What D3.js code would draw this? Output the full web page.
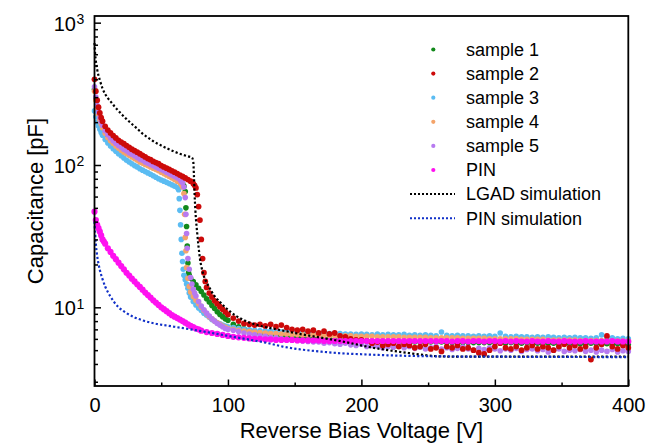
<!DOCTYPE html>
<html><head><meta charset="utf-8">
<script src="https://cdn.jsdelivr.net/npm/d3@7"></script>
<style>body{margin:0;background:#fff}svg{display:block}</style>
</head><body>
<svg id="c" width="647" height="443"></svg>
<script>
// ---------------- DATA ----------------
const xTicks = [0, 100, 200, 300, 400];
const xMinorTicks = [50, 150, 250, 350];
const yTicks = [10, 100, 1000];
const yTickExp = ["1", "2", "3"];
const yMinorTicks = [3,4,5,6,7,8,9,20,30,40,50,60,70,80,90,200,300,400,500,600,700,800,900];

const seriesNames = ["sample 1","sample 2","sample 3","sample 4","sample 5","PIN"];
const seriesColors = ["#12891b","#cc0a0a","#5bbcf2","#f4a46a","#b77af0","#ff10f0"];
const simNames = ["LGAD simulation","PIN simulation"];
const simColors = ["#000000","#1030c8"];

// shared voltage grid of the high-voltage measurements
const highV = [104,108,112,116,120,124,128,132,136,140,144,148,152,156,160,164,168,172,176,180,184,188,192,196,200,204,208,212,216,220,224,228,232,236,240,244,248,252,256,260,264,268,272,276,280,284,288,292,296,300,304,308,312,316,320,324,328,332,336,340,344,348,352,356,360,364,368,372,376,380,384,388,392,396,400];

// sample 1 (green)
const s1Low = [[0,340],[1,292],[2,256],[3,231],[4,212],[5,197],[6,186],[8,170],[10,159],[12,151],[14,145],[16,139],[18,134],[20,130],[22,126],[24,122],[26,119],[28,116],[30,113],[32,110],[34,107],[36,105],[38,103],[40,101],[42,99],[44,97],[46,95],[48,93],[50,91],[52,89],[54,87],[56,85],[58,83],[60,81],[62,79],[64,77],[66,74],[67,71],[68,65],[68.5,50],[69,37],[69.5,27],[70,20.5],[70.5,17.5],[71,16.8],[72,16],[74,15.2],[76,14.4],[78,13.6],[80,12.9],[82,12.2],[84,11.5],[86,10.9],[88,10.3],[90,9.8],[92,9.3],[94,8.9],[96,8.6],[98,8.3],[100,8.1]];
const s1High = [7.6,7.3,7.05,6.85,6.7,6.55,6.45,6.35,6.3,6.25,
 6.2,6.15,6.1,6.1,6.05,6.0,6.0,5.95,5.95,5.9,
 5.9,5.9,5.85,5.85,5.85,5.8,5.8,5.8,5.8,5.75,
 5.75,5.75,5.75,5.7,5.7,5.7,5.7,5.7,5.7,5.7,
 5.65,5.65,5.65,5.65,5.65,5.65,5.65,5.65,5.65,5.65,
 5.65,5.6,5.65,5.6,5.6,5.65,5.6,5.6,5.55,5.6,
 5.6,5.55,5.6,5.55,5.6,5.55,5.55,5.6,5.55,5.5,
 5.55,5.5,5.55,5.5,5.5];

// sample 2 (red)
const s2Low = [[0,400],[1,330],[2,285],[3,255],[4,232],[5,215],[6,203],[8,187],[10,176],[12,168],[14,161],[16,155],[18,149],[20,145],[22,141],[24,137],[26,133],[28,129],[30,126],[32,123],[34,120],[36,117],[38,114],[40,111],[42,109],[44,106],[46,104],[48,102],[50,99],[52,97],[54,95],[56,93],[58,91],[60,89],[62,87],[64,85],[66,83],[68,81],[70,79],[72,77],[74,74],[75,72],[76,69],[77,62],[78,51],[79,41],[80,30],[81,22],[82,17.5],[83,15.2],[84,13.8],[86,12.6],[88,11.8],[90,11.1],[92,10.6],[94,10.1],[96,9.7],[98,9.3],[100,8.9]];
const s2High = [8.4,8.0,7.7,7.6,7.5,7.6,7.4,7.6,7.3,7.5,
 7.2,7.0,6.9,7.0,6.8,6.9,6.6,6.8,6.5,6.6,
 6.3,6.2,6.0,5.9,5.9,5.8,5.6,5.7,5.4,5.5,
 5.6,5.3,5.5,5.4,5.2,5.3,5.5,5.1,5.2,4.9,
 5.3,5.2,5.4,5.1,5.2,5.0,4.8,4.7,5.0,5.3,
 5.6,5.2,5.1,5.3,5.0,5.2,5.4,5.1,5.3,5.2,
 5.0,5.3,5.5,5.2,5.4,5.1,5.3,4.3,5.2,5.5,
 6.3,5.3,5.1,5.4,5.2];

// sample 3 (light blue)
const s3Low = [[0,240],[1,218],[2,200],[3,188],[4,178],[5,169],[6,162],[8,151],[10,143],[12,136],[14,130],[16,125],[18,120],[20,116],[22,112],[24,108],[26,105],[28,102],[30,99],[32,97],[34,94],[36,92],[38,90],[40,88],[42,86],[44,84],[46,82],[48,80],[50,78.5],[52,77],[54,75.5],[56,74],[58,72.5],[60,71],[62,69.5],[63,67],[63.5,58],[64,48],[64.5,38],[65,30],[65.5,24],[66,21],[66.5,18.5],[67,16.8],[68,15.6],[69,14.6],[70,13.6],[71,12.6],[72,11.8],[74,11.0],[76,10.4],[78,9.9],[80,9.5],[82,9.1],[84,8.8],[86,8.5],[88,8.2],[90,8.0],[92,7.8],[94,7.65],[96,7.5],[98,7.4],[100,7.3]];
const s3High = [7.2,7.1,7.0,6.95,6.9,6.85,6.8,6.8,6.75,6.7,
 6.7,6.65,6.7,6.6,6.65,6.6,6.55,6.6,6.55,6.5,
 6.55,6.5,6.5,6.45,6.5,6.45,6.4,6.5,6.4,6.45,
 6.4,6.4,6.45,6.35,6.4,6.35,6.4,6.35,6.3,6.7,
 6.35,6.3,6.35,6.3,6.3,6.25,6.3,6.25,6.3,6.25,
 6.6,6.25,6.2,6.25,6.2,6.2,6.15,6.2,6.15,6.2,
 6.15,6.1,6.15,6.1,6.15,6.1,6.1,6.05,6.1,6.4,
 6.05,6.1,6.0,6.05,6.0];

// sample 4 (orange)
const s4Low = [[0,330],[1,285],[2,250],[3,227],[4,208],[5,194],[6,183],[8,167],[10,156],[12,148],[14,142],[16,136],[18,131],[20,127],[22,123],[24,120],[26,117],[28,114],[30,111],[32,108],[34,105],[36,103],[38,101],[40,99],[42,97],[44,95],[46,93],[48,91],[50,89],[52,87],[54,85],[56,83],[58,81],[60,79],[62,77],[64,75],[65,73],[66,70],[67,63],[67.5,45],[68,31],[68.5,25],[69,19],[70,16],[71,14],[72,12.8],[74,11.9],[76,11.2],[78,10.6],[80,10.0],[82,9.5],[84,9.0],[86,8.6],[88,8.3],[90,8.0],[92,7.8],[94,7.6],[96,7.4],[98,7.25],[100,7.1]];
const s4High = [7.0,6.9,6.8,6.75,6.7,6.65,6.6,6.55,6.55,6.5,
 6.5,6.45,6.45,6.4,6.4,6.4,6.35,6.35,6.35,6.3,
 6.3,6.3,6.3,6.25,6.25,6.25,6.25,6.2,6.2,6.2,
 6.2,6.2,6.15,6.15,6.15,6.15,6.15,6.1,6.1,6.1,
 6.1,6.1,6.1,6.05,6.05,6.05,6.05,6.05,6.0,6.0,
 6.0,6.0,6.0,6.0,5.95,5.95,5.95,5.95,5.95,5.9,
 5.9,5.9,5.9,5.9,5.9,5.85,5.85,5.85,5.85,5.85,
 5.8,5.8,5.8,5.8,5.8];

// sample 5 (purple)
const s5Low = [[0,355],[1,300],[2,262],[3,236],[4,216],[5,201],[6,190],[8,174],[10,163],[12,155],[14,148],[16,142],[18,137],[20,133],[22,129],[24,126],[26,122],[28,119],[30,116],[32,113],[34,110],[36,108],[38,105],[40,103],[42,101],[44,99],[46,97],[48,95],[50,93],[52,91],[54,89],[56,87],[58,85],[60,83],[62,81],[64,79],[65,77],[66,75],[67,70],[68,59],[68.5,45],[69,33],[69.5,26],[70,22],[71,18.5],[72,16.2],[73,14.6],[74,13.4],[75,12.6],[76,12.0],[78,11.0],[80,10.2],[82,9.6],[84,9.1],[86,8.7],[88,8.3],[90,8.0],[92,7.7],[94,7.5],[96,7.3],[98,7.1],[100,7.0]];
const s5High = [6.9,6.75,6.6,6.5,6.4,6.3,6.25,6.15,6.1,6.0,
 5.95,5.9,5.85,5.8,5.75,5.7,5.7,5.6,5.65,5.55,
 5.5,5.6,5.45,5.4,5.5,5.3,5.4,5.35,5.2,5.3,
 5.25,5.35,5.2,5.3,5.15,5.25,5.1,5.2,5.3,5.1,
 5.2,5.05,5.15,5.25,5.1,5.0,5.15,5.05,5.2,5.1,
 4.95,5.1,5.0,5.15,4.9,5.05,5.1,4.95,5.05,4.85,
 5.0,5.1,4.9,5.0,4.95,5.05,4.9,5.0,4.85,5.0,
 4.9,5.05,4.85,4.95,4.9];

// PIN (magenta)
const pinLow = [[0,47],[1,41],[2,38],[3,36],[4,34],[5,32],[6,30],[7,29],[8,28],[10,26],[12,24.5],[14,23],[16,21.8],[18,20.6],[20,19.5],[22,18.5],[24,17.5],[26,16.7],[28,15.9],[30,15.2],[32,14.5],[34,13.9],[36,13.3],[38,12.7],[40,12.2],[42,11.7],[44,11.2],[46,10.8],[48,10.4],[50,10.0],[52,9.7],[54,9.4],[56,9.1],[58,8.8],[60,8.6],[62,8.4],[64,8.2],[66,8.0],[68,7.8],[70,7.6],[72,7.4],[74,7.25],[76,7.1],[78,7.0],[80,6.85],[84,6.7],[88,6.6],[92,6.5],[96,6.4],[100,6.3]];
const pinHigh = [6.2,6.15,6.1,6.05,6.0,6.0,5.95,5.95,5.9,5.9,
 5.9,5.9,5.85,5.85,5.85,5.85,5.85,5.8,5.8,5.8,
 5.8,5.8,5.8,5.8,5.8,5.8,5.8,5.8,5.8,5.8,
 5.8,5.8,5.8,5.8,5.8,5.8,5.8,5.8,5.8,5.8,
 5.8,5.75,5.8,5.8,5.75,5.8,5.8,5.75,5.8,5.8,
 5.75,5.8,5.75,5.8,5.75,5.75,5.8,5.75,5.75,5.8,
 5.75,5.75,5.8,5.75,5.75,5.75,5.8,5.75,5.75,5.75,
 5.75,5.8,5.75,5.75,5.75];

// simulations
const lgadSim = [[0,720],[0.5,600],[1,540],[2,470],[3,425],[4,395],[6,345],[8,315],[10,295],[12,280],[15,258],[18,240],[21,224],[24,210],[28,194],[32,180],[36,166],[40,156],[45,145],[50,137],[55,130],[60,124],[65,119],[70,115],[73,113],[74,106],[74.5,85],[75,62],[75.5,50],[76,42],[77,33],[78,26.5],[79,22],[80,19.5],[82,16.5],[84,15],[86,13.8],[88,12.8],[90,12.0],[94,10.9],[98,10.0],[102,9.3],[106,8.7],[110,8.3],[115,7.9],[120,7.6],[130,7.2],[140,6.9],[150,6.6],[162,6.3],[175,6.0],[190,5.65],[204,5.3],[220,5.0],[235,4.78],[249,4.6],[260,4.52],[275,4.5],[300,4.5],[350,4.5],[400,4.5]];
const pinSim = [[0,40],[0.5,33],[1,28],[2,23],[3,20.2],[4,18.3],[6,15.8],[8,14.0],[10,12.8],[12,11.9],[15,10.8],[18,10.0],[21,9.5],[24,9.1],[30,8.5],[36,8.1],[45,7.7],[54,7.45],[64,7.2],[74,6.95],[84,6.7],[94,6.45],[104,6.2],[115,5.95],[130,5.6],[141,5.3],[155,5.05],[170,4.88],[185,4.75],[200,4.68],[220,4.6],[240,4.55],[260,4.52],[300,4.5],[350,4.48],[400,4.47]];

// ---------------- CHART ----------------
const FONT = "'Liberation Sans', Arial, Helvetica, sans-serif";
const svg = d3.select("#c");
const X0 = 94.5, X1 = 628.3, Y0 = 386, Y1 = 16;
const x = d3.scaleLinear().domain([0, 400]).range([X0, X1]);
const y = d3.scaleLog().domain([2.8, 1114]).range([Y0, Y1]);

function join(low, high) { return low.concat(highV.map((v, i) => [v, high[i]])); }
const measured = [join(s1Low, s1High), join(s2Low, s2High), join(s3Low, s3High),
                  join(s4Low, s4High), join(s5Low, s5High), join(pinLow, pinHigh)];
const drawOrder = [0, 2, 3, 4, 1, 5];
const radii = [2.8, 2.9, 2.8, 2.8, 2.8, 3.1];

const plot = svg.append("g");
drawOrder.forEach(k => {
  plot.append("g").selectAll("circle").data(measured[k]).join("circle")
    .attr("cx", d => x(d[0])).attr("cy", d => y(d[1])).attr("r", radii[k])
    .attr("fill", seriesColors[k]);
});
const line = d3.line().x(d => x(d[0])).y(d => y(d[1])).curve(d3.curveMonotoneX);
[lgadSim, pinSim].forEach((s, k) => {
  plot.append("path").datum(s).attr("d", line).attr("fill", "none")
    .attr("stroke", simColors[k]).attr("stroke-width", 2.2).attr("stroke-dasharray", "2.2,2.2");
});

// axes
const gx = svg.append("g").attr("transform", `translate(0,${Y0})`)
  .call(d3.axisBottom(x).tickValues(xTicks).tickSize(-6.5).tickSizeOuter(0).tickPadding(11.5).tickFormat(d3.format("d")));
gx.select(".domain").remove();
const gxm = svg.append("g").attr("transform", `translate(0,${Y0})`)
  .call(d3.axisBottom(x).tickValues(xMinorTicks).tickSize(-3.5).tickSizeOuter(0).tickFormat(""));
gxm.select(".domain").remove();

const gy = svg.append("g").attr("transform", `translate(${X0},0)`)
  .call(d3.axisLeft(y).tickValues(yTicks).tickSize(-6.5).tickSizeOuter(0).tickFormat(""));
gy.select(".domain").remove();
const gym = svg.append("g").attr("transform", `translate(${X0},0)`)
  .call(d3.axisLeft(y).tickValues(yMinorTicks).tickSize(-3.5).tickSizeOuter(0).tickFormat(""));
gym.select(".domain").remove();

svg.selectAll(".tick line").attr("stroke", "#000").attr("stroke-width", 1.5);
gx.selectAll("text").attr("font-family", FONT).attr("font-size", 20).attr("fill", "#000");

// y tick labels 10^n
yTicks.forEach((v, i) => {
  svg.append("text").attr("font-family", FONT).attr("fill", "#000")
    .attr("text-anchor", "end").attr("x", 76).attr("y", y(v) + 8).attr("font-size", 20).text("10");
  svg.append("text").attr("font-family", FONT).attr("fill", "#000")
    .attr("x", 76.5).attr("y", y(v) + 1.5).attr("font-size", 14).text(yTickExp[i]);
});

// frame
svg.append("rect").attr("x", X0).attr("y", Y1).attr("width", X1 - X0).attr("height", Y0 - Y1)
  .attr("fill", "none").attr("stroke", "#000").attr("stroke-width", 1.8);

// axis titles
svg.append("text").attr("font-family", FONT).attr("font-size", 22).attr("fill", "#000")
  .attr("text-anchor", "middle").attr("x", (X0 + X1) / 2).attr("y", 437.5).text("Reverse Bias Voltage [V]");
svg.append("text").attr("font-family", FONT).attr("font-size", 22).attr("fill", "#000")
  .attr("text-anchor", "middle").attr("transform", `translate(43,${(Y0 + Y1) / 2}) rotate(-90)`)
  .text("Capacitance [pF]");

// legend
const leg = svg.append("g");
const rowY = i => 49.5 + i * 24.1;
seriesNames.forEach((n, i) => {
  leg.append("circle").attr("cx", 433.3).attr("cy", rowY(i)).attr("r", 2.1).attr("fill", seriesColors[i]);
  leg.append("text").attr("font-family", FONT).attr("font-size", 18).attr("fill", "#000")
    .attr("x", 466).attr("y", rowY(i) + 6.3).text(n);
});
simNames.forEach((n, j) => {
  const i = seriesNames.length + j;
  leg.append("line").attr("x1", 410).attr("x2", 455).attr("y1", rowY(i)).attr("y2", rowY(i))
    .attr("stroke", simColors[j]).attr("stroke-width", 2).attr("stroke-dasharray", "2,2");
  leg.append("text").attr("font-family", FONT).attr("font-size", 18).attr("fill", "#000")
    .attr("x", 466).attr("y", rowY(i) + 6.3).text(n);
});
</script>
</body></html>
